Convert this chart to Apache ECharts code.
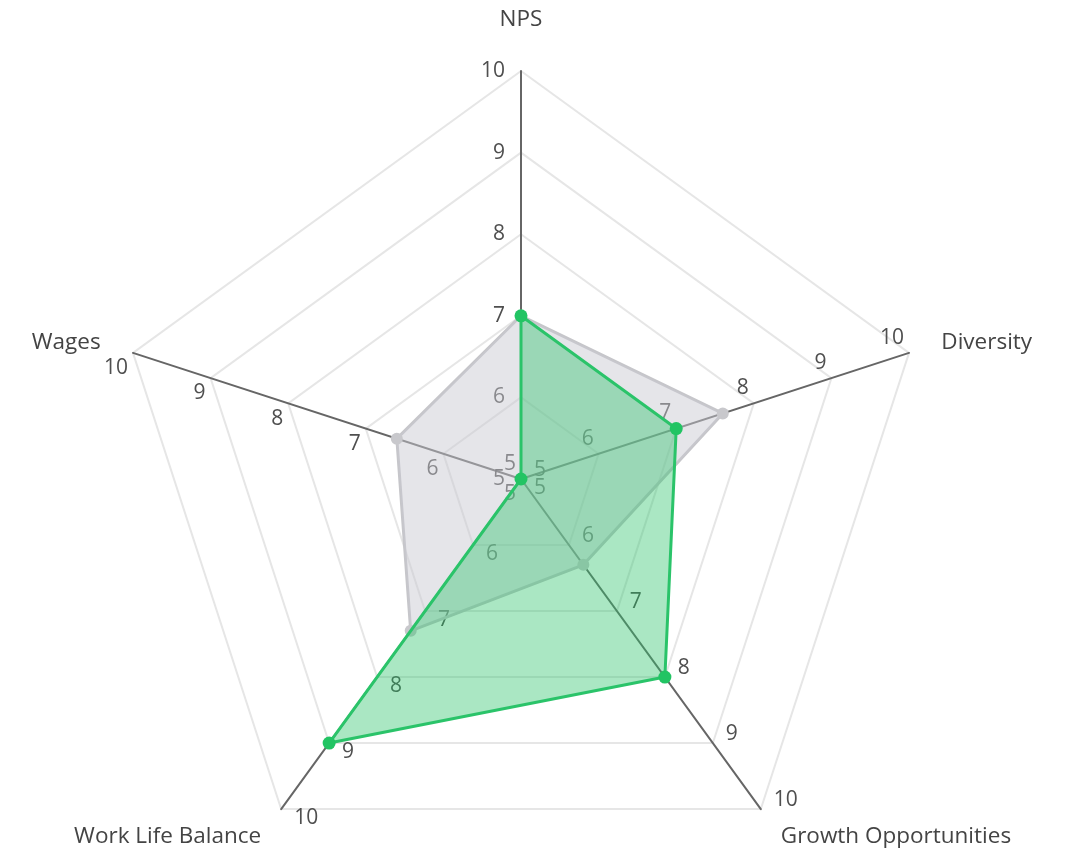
<!DOCTYPE html>
<html>
<head>
<meta charset="utf-8">
<script src="https://cdn.jsdelivr.net/npm/echarts@6/dist/echarts.min.js"></script>
<style>
html,body{margin:0;padding:0;background:#fff;}
#chart{width:1067px;height:852px;}
</style>
</head>
<body>
<div id="chart"></div>
<script>
// Indicators (counter-clockwise from top)
const indicatorNames = ['NPS', 'Wages', 'Work Life Balance', 'Growth Opportunities', 'Diversity'];
const axisMin = 5;
const axisMax = 10;
// Series values, same order as indicatorNames
const greenValues = [7, 5, 9, 8, 7];
const grayValues = [7, 6.6, 7.3, 6.3, 7.6];

const chart = echarts.init(document.getElementById('chart'));
const fontFam = '"Open Sans", "Noto Sans", sans-serif';

const indicators = indicatorNames.map(function (n, i) {
  const o = { name: n, min: axisMin, max: axisMax };
  if (i === 0) o.nameGap = 40;
  return o;
});

chart.setOption({
  backgroundColor: '#ffffff',
  animation: false,
  radar: {
    center: [521, 479],
    radius: 408,
    startAngle: 90,
    shape: 'polygon',
    splitNumber: 5,
    nameGap: 34,
    axisName: { color: '#444', fontSize: 22.5, fontFamily: fontFam },
    axisLine: { lineStyle: { color: '#666', width: 2 } },
    axisTick: { show: false },
    axisLabel: { show: true, color: '#4f4f4f', fontSize: 21, fontFamily: fontFam, margin: 16 },
    splitLine: { lineStyle: { color: '#e6e6e6', width: 2 } },
    splitArea: { show: false },
    indicator: indicators
  },
  series: [
    {
      type: 'radar',
      z: 2,
      symbol: 'circle',
      symbolSize: 12,
      lineStyle: { color: '#c6c6ca', width: 3 },
      itemStyle: { color: '#c8c8cc' },
      areaStyle: { color: '#c8c8d0', opacity: 0.48 },
      data: [{ value: grayValues, name: 'Gray' }]
    },
    {
      type: 'radar',
      z: 3,
      symbol: 'circle',
      symbolSize: 13,
      lineStyle: { color: '#2bc46a', width: 3 },
      itemStyle: { color: '#22c463' },
      areaStyle: { color: '#2bc46a', opacity: 0.4 },
      data: [{ value: greenValues, name: 'Green' }]
    }
  ]
});
</script>
</body>
</html>
